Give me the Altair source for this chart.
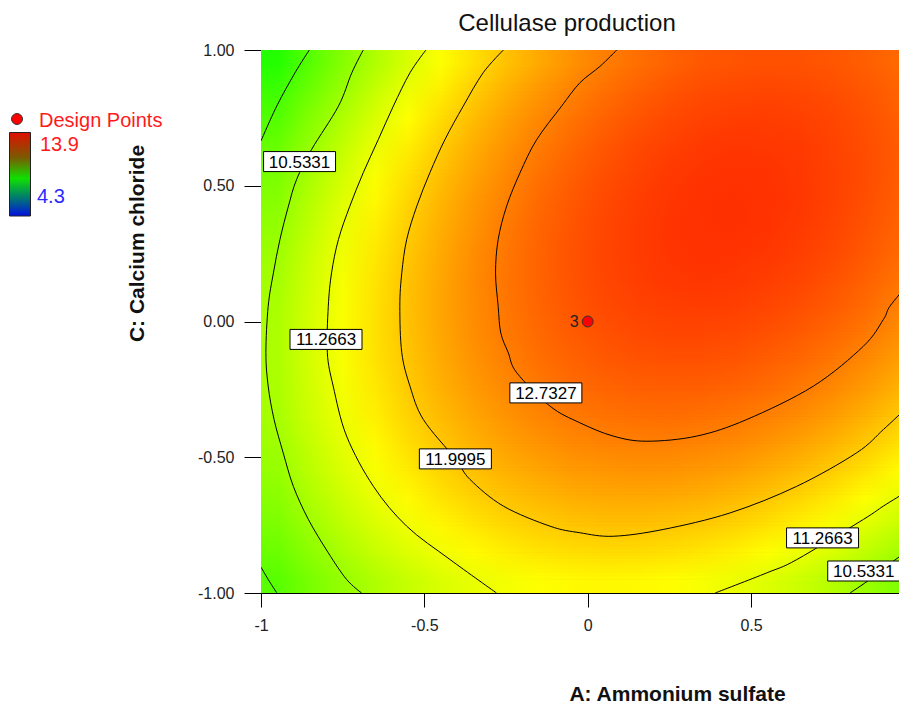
import altair as alt
import pandas as pd

# ---------------- data ----------------
# response surface, read on a 0.1 grid (cell centres)
X_CENTERS = [-0.95, -0.85, -0.75, -0.65, -0.55, -0.45, -0.35, -0.25, -0.15, -0.05,
             0.05, 0.15, 0.25, 0.35, 0.45, 0.55, 0.65, 0.75, 0.85, 0.95]
Y_CENTERS = [0.95, 0.85, 0.75, 0.65, 0.55, 0.45, 0.35, 0.25, 0.15, 0.05,
             -0.05, -0.15, -0.25, -0.35, -0.45, -0.55, -0.65, -0.75, -0.85, -0.95]
Z_ROWS = [
    [9.43, 9.91, 10.35, 10.76, 11.13, 11.48, 11.79, 12.07, 12.31, 12.53, 12.71, 12.86, 12.98, 13.07, 13.12, 13.14, 13.13, 13.09, 13.02, 12.91],
    [9.67, 10.13, 10.56, 10.96, 11.33, 11.66, 11.97, 12.24, 12.48, 12.68, 12.86, 13.00, 13.11, 13.19, 13.23, 13.25, 13.23, 13.18, 13.09, 12.98],
    [9.87, 10.33, 10.75, 11.14, 11.50, 11.83, 12.12, 12.39, 12.62, 12.81, 12.98, 13.11, 13.21, 13.28, 13.32, 13.33, 13.30, 13.24, 13.15, 13.02],
    [10.06, 10.51, 10.92, 11.30, 11.65, 11.97, 12.26, 12.51, 12.73, 12.92, 13.08, 13.21, 13.30, 13.36, 13.39, 13.38, 13.35, 13.28, 13.18, 13.05],
    [10.22, 10.66, 11.07, 11.44, 11.78, 12.09, 12.37, 12.61, 12.83, 13.01, 13.16, 13.27, 13.36, 13.41, 13.43, 13.42, 13.37, 13.29, 13.19, 13.04],
    [10.36, 10.79, 11.19, 11.56, 11.89, 12.19, 12.46, 12.69, 12.90, 13.07, 13.21, 13.32, 13.39, 13.44, 13.45, 13.43, 13.38, 13.29, 13.17, 13.02],
    [10.48, 10.90, 11.29, 11.65, 11.97, 12.26, 12.52, 12.75, 12.95, 13.11, 13.24, 13.34, 13.41, 13.44, 13.45, 13.42, 13.35, 13.26, 13.13, 12.98],
    [10.57, 10.99, 11.37, 11.72, 12.03, 12.31, 12.57, 12.79, 12.97, 13.13, 13.25, 13.34, 13.40, 13.43, 13.42, 13.38, 13.31, 13.21, 13.07, 12.91],
    [10.64, 11.05, 11.42, 11.76, 12.07, 12.34, 12.59, 12.80, 12.97, 13.12, 13.24, 13.32, 13.37, 13.39, 13.37, 13.32, 13.25, 13.13, 12.99, 12.82],
    [10.69, 11.09, 11.45, 11.78, 12.08, 12.35, 12.58, 12.78, 12.95, 13.09, 13.20, 13.27, 13.31, 13.32, 13.30, 13.24, 13.16, 13.04, 12.89, 12.70],
    [10.72, 11.11, 11.46, 11.78, 12.07, 12.33, 12.56, 12.75, 12.91, 13.04, 13.14, 13.20, 13.24, 13.24, 13.20, 13.14, 13.04, 12.92, 12.76, 12.56],
    [10.72, 11.10, 11.44, 11.76, 12.04, 12.29, 12.51, 12.69, 12.85, 12.97, 13.05, 13.11, 13.13, 13.13, 13.09, 13.01, 12.91, 12.77, 12.60, 12.40],
    [10.70, 11.07, 11.41, 11.71, 11.99, 12.23, 12.44, 12.61, 12.76, 12.87, 12.95, 13.00, 13.01, 13.00, 12.95, 12.87, 12.75, 12.61, 12.43, 12.22],
    [10.66, 11.02, 11.35, 11.64, 11.91, 12.14, 12.34, 12.51, 12.65, 12.75, 12.82, 12.86, 12.87, 12.84, 12.78, 12.69, 12.57, 12.42, 12.23, 12.01],
    [10.59, 10.94, 11.26, 11.55, 11.81, 12.03, 12.22, 12.38, 12.51, 12.61, 12.67, 12.70, 12.70, 12.66, 12.60, 12.50, 12.37, 12.21, 12.01, 11.79],
    [10.50, 10.85, 11.16, 11.44, 11.68, 11.90, 12.08, 12.23, 12.35, 12.44, 12.49, 12.52, 12.51, 12.46, 12.39, 12.28, 12.14, 11.97, 11.77, 11.53],
    [10.39, 10.73, 11.03, 11.30, 11.54, 11.75, 11.92, 12.06, 12.17, 12.25, 12.30, 12.31, 12.29, 12.24, 12.16, 12.04, 11.89, 11.71, 11.50, 11.26],
    [10.26, 10.58, 10.88, 11.14, 11.37, 11.57, 11.73, 11.87, 11.97, 12.04, 12.08, 12.08, 12.05, 11.99, 11.90, 11.78, 11.62, 11.43, 11.21, 10.96],
    [10.10, 10.42, 10.70, 10.96, 11.18, 11.37, 11.53, 11.65, 11.74, 11.80, 11.83, 11.83, 11.79, 11.73, 11.63, 11.49, 11.33, 11.13, 10.90, 10.64],
    [9.92, 10.23, 10.50, 10.75, 10.96, 11.14, 11.29, 11.41, 11.49, 11.55, 11.57, 11.55, 11.51, 11.43, 11.32, 11.18, 11.01, 10.80, 10.57, 10.30],
]

# contour lines
C9_8_TOP_X = [-0.852, -0.896, -0.952, -1.0]
C9_8_TOP_Y = [1.0, 0.916, 0.793, 0.665]
C9_8_BOT_X = [-1.0, -0.978, -0.952]
C9_8_BOT_Y = [-0.905, -0.950, -0.999]
C10_5_LEFT_X = [-0.687, -0.722, -0.763, -0.845, -0.891, -0.916, -0.942, -0.962, -0.978,
                -0.985, -0.978, -0.960, -0.932, -0.901, -0.855, -0.794, -0.738, -0.692]
C10_5_LEFT_Y = [1.0, 0.916, 0.793, 0.634, 0.523, 0.425, 0.302, 0.179, 0.056,
                -0.114, -0.238, -0.361, -0.484, -0.607, -0.729, -0.852, -0.950, -1.0]
C10_5_RIGHT_X = [0.803, 0.864, 0.915, 0.971]
C10_5_RIGHT_Y = [-1.0, -0.950, -0.901, -0.852]
C11_3_LEFT_X = [-0.495, -0.544, -0.595, -0.641, -0.687, -0.728, -0.763, -0.784, -0.794,
                -0.797, -0.779, -0.738, -0.656, -0.554, -0.421, -0.279]
C11_3_LEFT_Y = [1.0, 0.916, 0.793, 0.670, 0.548, 0.425, 0.302, 0.179, 0.056,
                -0.115, -0.238, -0.422, -0.607, -0.754, -0.877, -1.0]
C11_3_RIGHT_X = [0.390, 0.548, 0.640, 0.844, 0.905, 0.971]
C11_3_RIGHT_Y = [-1.0, -0.926, -0.877, -0.729, -0.680, -0.631]
C12_0_X = [-0.258, -0.320, -0.381, -0.437, -0.483, -0.523, -0.554, -0.569, -0.575, -0.569,
           -0.544, -0.503, -0.405, -0.360, -0.258, -0.115, -0.024, 0.078, 0.231, 0.436,
           0.640, 0.823, 0.905, 0.971]
C12_0_Y = [1.0, 0.916, 0.793, 0.670, 0.548, 0.425, 0.302, 0.179, 0.056, -0.115,
           -0.238, -0.361, -0.506, -0.582, -0.680, -0.754, -0.778, -0.791, -0.766, -0.705,
           -0.607, -0.484, -0.398, -0.324]
C12_7_X = [0.089, 0.038, -0.024, -0.080, -0.156, -0.207, -0.248, -0.274, -0.282, -0.274,
           -0.266, -0.243, -0.217, -0.115, -0.024, 0.078, 0.181, 0.334, 0.487, 0.691,
           0.844, 0.905, 0.925, 0.976]
C12_7_Y = [1.0, 0.940, 0.879, 0.793, 0.670, 0.548, 0.425, 0.302, 0.179, 0.056,
           -0.042, -0.115, -0.189, -0.312, -0.373, -0.422, -0.441, -0.422, -0.361, -0.238,
           -0.091, 0.007, 0.056, 0.130]

# contour labels
LABEL_TEXT = ["10.5331", "11.2663", "12.7327", "11.9995", "11.2663", "10.5331"]
LABEL_X = [-0.882, -0.801, -0.128, -0.405, 0.719, 0.845]
LABEL_Y = [0.589, -0.066, -0.263, -0.506, -0.797, -0.919]

# design point (centre point, 3 replicates)
DESIGN_X = [0.0]
DESIGN_Y = [0.0]
DESIGN_REPS = ["3"]

# response range shown in the legend
RESP_MIN, RESP_MAX = 4.3, 13.9

TITLE = "Cellulase production"

# ---------------- tables ----------------
NCOL = len(X_CENTERS)
ZF = [f"z{i}" for i in range(NCOL)]
HALF = 0.05
XL, XR = X_CENTERS[0] - HALF, X_CENTERS[-1] + HALF

grid_rows = []
for j, yc in enumerate(Y_CENTERS):
    for i, xc in enumerate(X_CENTERS):
        grid_rows.append({"x0": xc - HALF, "x1": xc + HALF,
                          "y0": yc - HALF, "y1": yc + HALF, "z": Z_ROWS[j][i]})
grid = pd.DataFrame(grid_rows)

# smooth shading: each grid row is a strip whose fill runs through the row's
# values along x; the next row is blended in with growing opacity along y.
K = 8
base_rows, over_rows = [], []
nrow = len(Y_CENTERS)
for j, yc in enumerate(Y_CENTERS):
    top = yc + (HALF if j == 0 else 0.0)
    bot = yc - 2 * HALF if j < nrow - 1 else yc - HALF
    rec = {"xl": XL, "xr": XR, "yt": top, "yb": bot}
    rec.update({ZF[i]: Z_ROWS[j][i] for i in range(NCOL)})
    base_rows.append(rec)
    if j < nrow - 1:
        step = (Y_CENTERS[j] - Y_CENTERS[j + 1]) / K
        for s in range(K):
            r = {"xl": XL, "xr": XR, "yt": yc - s * step, "yb": yc - (s + 1) * step,
                 "t": (s + 0.5) / K}
            r.update({ZF[i]: Z_ROWS[j + 1][i] for i in range(NCOL)})
            over_rows.append(r)
base = pd.DataFrame(base_rows)
over = pd.DataFrame(over_rows)

stops = ", ".join(
    "{offset: %.4f, color: scale('color', datum.%s)}" % ((X_CENTERS[i] - XL) / (XR - XL), ZF[i])
    for i in range(NCOL))
grad_expr = "{gradient: 'linear', x1: 0, y1: 0, x2: 1, y2: 0, stops: [" + stops + "]}"

segments = {
    "9.7999a": (C9_8_TOP_X, C9_8_TOP_Y),
    "9.7999b": (C9_8_BOT_X, C9_8_BOT_Y),
    "10.5331a": (C10_5_LEFT_X, C10_5_LEFT_Y),
    "10.5331b": (C10_5_RIGHT_X, C10_5_RIGHT_Y),
    "11.2663a": (C11_3_LEFT_X, C11_3_LEFT_Y),
    "11.2663b": (C11_3_RIGHT_X, C11_3_RIGHT_Y),
    "11.9995": (C12_0_X, C12_0_Y),
    "12.7327": (C12_7_X, C12_7_Y),
}
cont_rows = []
for seg, (xs_, ys_) in segments.items():
    for k, (a, b) in enumerate(zip(xs_, ys_)):
        cont_rows.append({"seg": seg, "ord": k, "x": a, "y": b})
cont = pd.DataFrame(cont_rows)

labels = pd.DataFrame({"lx": LABEL_X, "ly": LABEL_Y, "txt": LABEL_TEXT})
design = pd.DataFrame({"x": DESIGN_X, "y": DESIGN_Y, "reps": DESIGN_REPS})
one = pd.DataFrame({"k": [0]})

# ---------------- scales / axes ----------------
FONT = "Liberation Sans"
xs = alt.Scale(domain=[-1, 0.953], nice=False, zero=False)
ys = alt.Scale(domain=[-1, 1], nice=False, zero=False)
cs = alt.Scale(domain=[RESP_MIN, 9.1, 11.5, RESP_MAX],
               range=["#0000ff", "#00ff00", "#ffff00", "#ff0000"], interpolate="rgb")

xaxis = alt.Axis(values=[-1, -0.5, 0, 0.5],
                 labelExpr="(datum.value < 0 ? '-' : '') + format(abs(datum.value), '')",
                 tickSize=14, tickColor="#000", domainColor="#000", labelPadding=10,
                 labelFlush=False, labelFont=FONT, labelFontSize=16, labelColor="#222",
                 grid=False, title="A: Ammonium sulfate", titleFont=FONT, titleFontSize=21,
                 titleFontWeight="bold", titleColor="#111", titleX=416, titleY=101,
                 titleAlign="center", titleBaseline="middle")
yaxis = alt.Axis(values=[-1, -0.5, 0, 0.5, 1],
                 labelExpr="(datum.value < 0 ? '-' : '') + format(abs(datum.value), '.2f')",
                 tickSize=17, tickColor="#000", domainColor="#000", labelPadding=10,
                 labelFont=FONT, labelFontSize=16, labelColor="#222", grid=False,
                 title="C: Calcium chloride", titleFont=FONT, titleFontSize=21,
                 titleFontWeight="bold", titleColor="#111", titleX=-124, titleY=193,
                 titleAngle=270, titleAlign="center", titleBaseline="middle")

# ---------------- layers ----------------
heat = alt.Chart(grid).mark_rect(clip=True, strokeWidth=0.6).encode(
    x=alt.X("x0:Q", scale=xs, axis=xaxis),
    x2="x1:Q",
    y=alt.Y("y0:Q", scale=ys, axis=yaxis),
    y2="y1:Q",
    color=alt.Color("z:Q", scale=cs, legend=None),
    stroke=alt.Stroke("z:Q", scale=cs, legend=None),
)

strips = alt.Chart(base).mark_rect(clip=True, fill={"expr": grad_expr}, strokeWidth=0,
                                   y2Offset=1).encode(
    x=alt.X("xl:Q", scale=xs), x2="xr:Q", y=alt.Y("yt:Q", scale=ys), y2="yb:Q")
blend = alt.Chart(over).mark_rect(clip=True, fill={"expr": grad_expr}, strokeWidth=0).encode(
    x=alt.X("xl:Q", scale=xs), x2="xr:Q", y=alt.Y("yt:Q", scale=ys), y2="yb:Q",
    opacity=alt.Opacity("t:Q", scale=None, legend=None))

lines = alt.Chart(cont).mark_line(clip=True, color="#000", strokeWidth=1,
                                  interpolate="cardinal").encode(
    x=alt.X("x:Q", scale=xs), y=alt.Y("y:Q", scale=ys),
    detail="seg:N", order="ord:Q")

boxes = alt.Chart(labels).mark_rect(clip=True, fill="white", stroke="#000", strokeWidth=1,
                                    xOffset=-36, x2Offset=36, yOffset=-10, y2Offset=10).encode(
    x=alt.X("lx:Q", scale=xs), x2="lx:Q", y=alt.Y("ly:Q", scale=ys), y2="ly:Q")

btext = alt.Chart(labels).mark_text(clip=True, font=FONT, fontSize=17, color="#000",
                                    align="center", baseline="middle", dy=1).encode(
    x=alt.X("lx:Q", scale=xs), y=alt.Y("ly:Q", scale=ys), text="txt:N")

dpt = alt.Chart(design).mark_point(shape="circle", filled=True, fill="#ff0000",
                                   stroke="#333", strokeWidth=1, size=120, opacity=1).encode(
    x=alt.X("x:Q", scale=xs), y=alt.Y("y:Q", scale=ys))
dlab = alt.Chart(design).mark_text(font=FONT, fontSize=16, color="#222", align="right",
                                   baseline="middle", dx=-9).encode(
    x=alt.X("x:Q", scale=xs), y=alt.Y("y:Q", scale=ys), text="reps:N")

# chart title
title_mark = alt.Chart(one).mark_text(font=FONT, fontSize=24, color="#111", align="center",
                                      baseline="alphabetic").encode(
    x=alt.value(306), y=alt.value(-19), text=alt.value(TITLE))

# legend (drawn at the left, outside the plot)
leg_dot = alt.Chart(one).mark_point(shape="circle", filled=True, fill="#ff0000",
                                    stroke="#333", strokeWidth=1, size=120, opacity=1).encode(
    x=alt.value(-244), y=alt.value(69))
leg_txt = alt.Chart(one).mark_text(font=FONT, fontSize=20, color="#ff1a1a", align="left",
                                   baseline="alphabetic").encode(
    x=alt.value(-222), y=alt.value(77), text=alt.value("Design Points"))
bar_grad = alt.Gradient(gradient="linear", x1=0, y1=0, x2=0, y2=1, stops=[
    alt.GradientStop(offset=0, color="#e01000"),
    alt.GradientStop(offset=0.3, color="#7a5a00"),
    alt.GradientStop(offset=0.55, color="#10e000"),
    alt.GradientStop(offset=0.78, color="#007a70"),
    alt.GradientStop(offset=1, color="#0010e0")])
leg_bar = alt.Chart(one).mark_rect(color=bar_grad, stroke="#222", strokeWidth=1).encode(
    x=alt.value(-251.5), x2=alt.value(-230.5), y=alt.value(82.5), y2=alt.value(166))
leg_max = alt.Chart(one).mark_text(font=FONT, fontSize=20, color="#ff1a1a", align="left",
                                   baseline="alphabetic").encode(
    x=alt.value(-221), y=alt.value(101), text=alt.value(f"{RESP_MAX}"))
leg_min = alt.Chart(one).mark_text(font=FONT, fontSize=20, color="#2a2aff", align="left",
                                   baseline="alphabetic").encode(
    x=alt.value(-224), y=alt.value(153), text=alt.value(f"{RESP_MIN}"))

chart = alt.layer(
    heat, strips, blend, lines, boxes, btext, dpt, dlab, title_mark,
    leg_dot, leg_txt, leg_bar, leg_max, leg_min
).properties(
    width=638, height=543,
    padding={"left": 253, "top": 42, "right": 0, "bottom": 110},
    autosize=alt.AutoSizeParams(type="none"),
).configure_view(stroke="#000", strokeWidth=1).configure(background="white")

chart.save("out.html", embed_options={"renderer": "svg", "actions": False})
